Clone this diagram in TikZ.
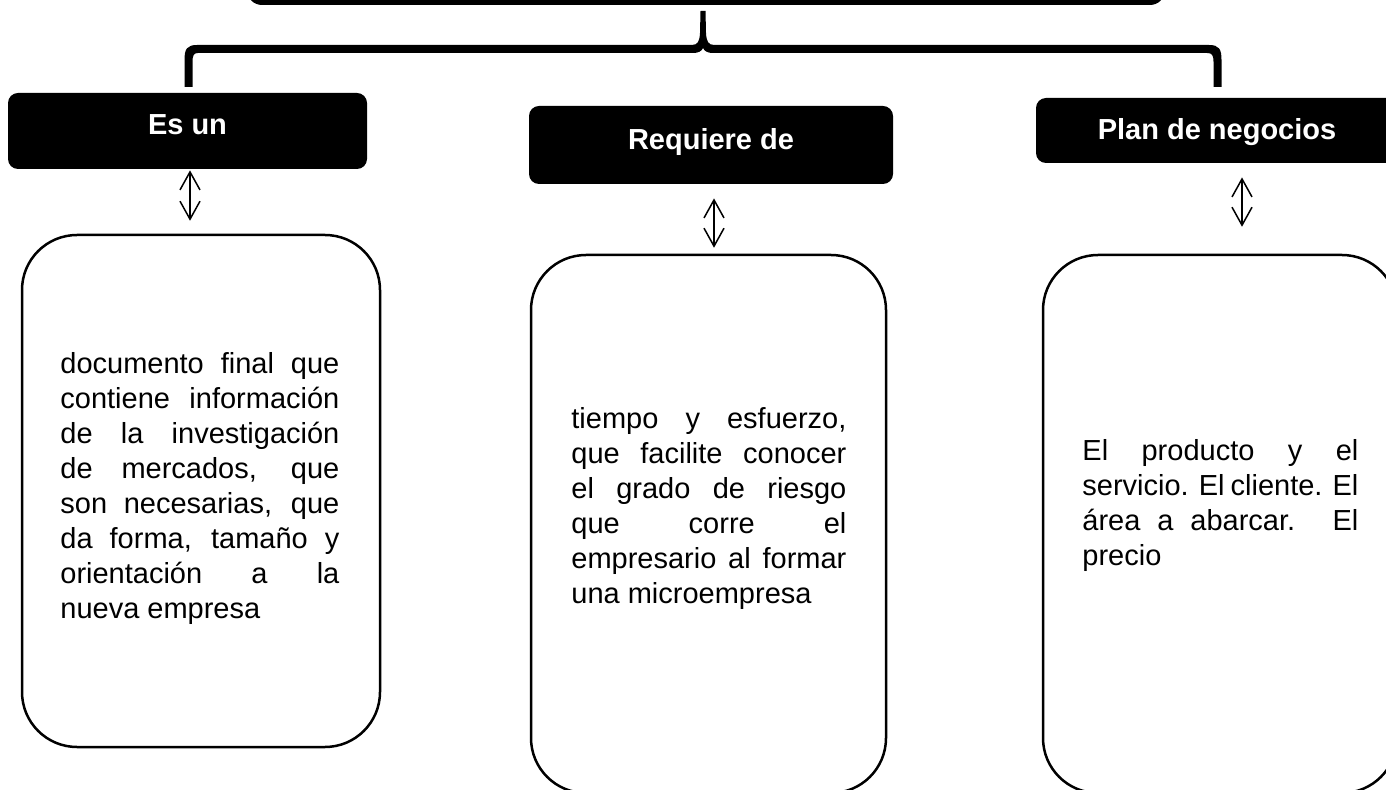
\documentclass[tikz,border=0pt]{standalone}
\usepackage{fontspec}
\setmainfont{Liberation Sans}
\usetikzlibrary{arrows.meta}

\begin{document}
\begin{tikzpicture}[x=0.5pt,y=-0.5pt]
\def\fs{\fontsize{14.5pt}{17.5pt}\selectfont}
\tikzset{
base/.style={font=\fs,inner sep=0pt},
titulo/.style={base,fill=black,text=white,font=\fs\bfseries,rounded corners=5pt,text height=1.4ex,text depth=0pt},
caja/.style={draw,line width=1.25pt,rounded corners=27.5pt},
texto/.style={base,align=justify,anchor=north west},
doble/.style={<->,>={Straight Barb[length=9pt,width=10pt]},line width=0.75pt},
llave/.style={fill=black}}
\useasboundingbox (0,0) rectangle (1386,790);
% encabezado y llave
\node[titulo,rounded corners=7.5pt,minimum width=459pt,minimum height=20pt] at (706,-15) (raiz) {};
\fill[llave] (184.5,87) -- (184.5,60) .. controls (184.5,49) and (187,45) .. (197,45)
 -- (692,45) .. controls (698,45) and (699.5,41) .. (700,33) -- (700.5,11) -- (705.5,11) -- (706,33) .. controls (706.5,41) and (708,45) .. (714,45)
 -- (1209,45) .. controls (1219,45) and (1221.5,49) .. (1221.5,60) -- (1221.5,87) -- (1213.5,87) -- (1213.5,62) .. controls (1213.5,55) and (1212,53) .. (1207,53)
 -- (713,53) .. controls (708,53) and (704.5,51.5) .. (703,48) .. controls (701.5,51.5) and (698,53) .. (693,53)
 -- (198,53) .. controls (194,53) and (192.5,55) .. (192.5,62) -- (192.5,87) -- cycle;
% titulos
\node[titulo,text depth=4pt,minimum width=179.5pt,minimum height=38pt] at (187.5,131) (tituloA) {Es un};
\node[titulo,text depth=2.5pt,minimum width=182pt,minimum height=39pt] at (711,145) (tituloB) {Requiere de};
\node[titulo,text height=1.4ex+1.5pt,minimum width=181pt,minimum height=32.5pt] at (1217,130.5) (tituloC) {Plan de negocios};
% cajas
\node[caja,minimum width=179pt,minimum height=256pt] at (201,491) (cajaA) {};
\node[caja,minimum width=177.5pt,minimum height=269pt] at (708.5,524) (cajaB) {};
\node[caja,minimum width=177pt,minimum height=269pt] at (1220,524) (cajaC) {};
\node[texto,text width=139.5pt] at (60,352) (textoA) {documento final que\linebreak contiene información\linebreak de la investigación\linebreak de mercados, que\linebreak son necesarias, que\linebreak da forma, tamaño y\linebreak orientación a la\linebreak nueva empresa};
\node[texto,text width=137.5pt] at (571,407) (textoB) {tiempo y esfuerzo,\linebreak que facilite conocer\linebreak el grado de riesgo\linebreak que corre el\linebreak empresario al formar\linebreak una microempresa};
\node[texto,text width=138pt] at (1082,439) (textoC) {El producto y el\linebreak servicio. El cliente. El\linebreak área a abarcar. El\linebreak precio};
% flechas
\draw[doble,shorten <=0.5pt,shorten >=6.5pt] ([xshift=1.25pt]tituloA.south) -- ([xshift=1.25pt]tituloA.south |- cajaA.north);
\draw[doble,shorten <=7pt,shorten >=3pt] ([xshift=1.5pt]tituloB.south) -- ([xshift=1.5pt]tituloB.south |- cajaB.north);
\draw[doble,shorten <=7pt,shorten >=13.5pt] ([xshift=12.5pt]tituloC.south) -- ([xshift=12.5pt]tituloC.south |- cajaC.north);
\end{tikzpicture}
\end{document}
